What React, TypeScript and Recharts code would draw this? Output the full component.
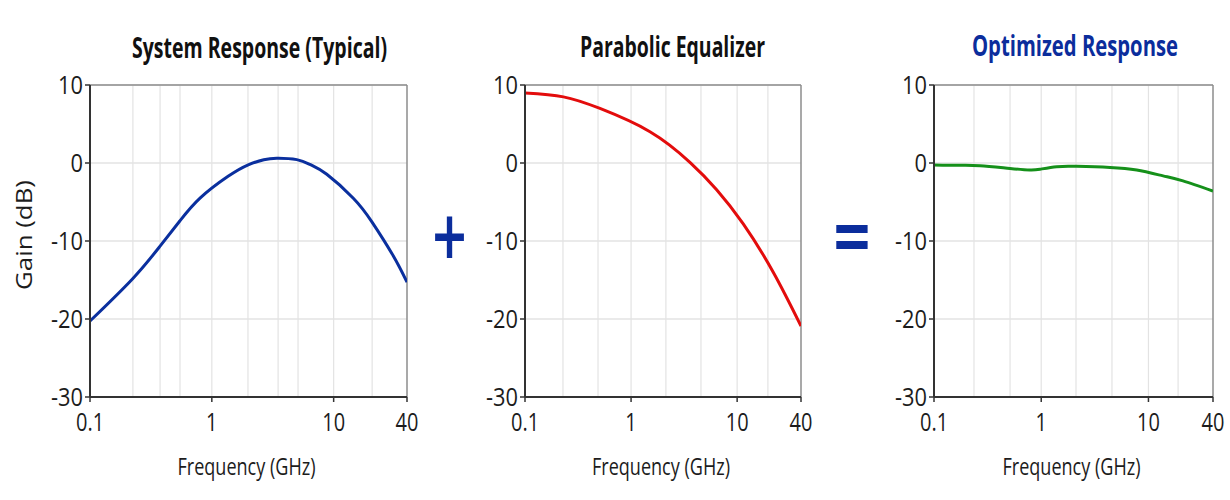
import {
	CartesianGrid,
	Line,
	LineChart,
	ReferenceLine,
	XAxis,
	YAxis,
} from "recharts";

const freqTicks = [0.1, 1, 10, 40];
const gainTicks = [-30, -20, -10, 0, 10];

// System response, GHz / dB
const systemFreq = [0.1, 0.225, 0.376, 0.548, 0.8, 1.36, 1.99, 2.67, 3.41, 4.98, 6.52, 8.78, 14.5, 20.6, 30.9, 40];
const systemGain = [-20.26, -14.8, -10.66, -7.41, -4.51, -1.71, -0.24, 0.42, 0.62, 0.43, -0.24, -1.45, -4.51, -7.54, -11.92, -15.28];
const systemGrid = [0.225, 0.376, 0.548, 1, 1.98, 3.5, 5.1, 10, 20.7];

// Parabolic equalizer
const eqFreq = [0.1, 0.23, 0.509, 1.507, 3.59, 6.41, 11.42, 21.9, 40];
const eqGain = [8.97, 8.48, 6.99, 4.01, 0.09, -3.42, -7.8, -14.0, -20.9];
const eqGrid = [0.228, 0.488, 1, 2.13, 4.56, 10, 19.5];

// Combined result
const optFreq = [0.1, 0.174, 0.269, 0.512, 0.786, 0.975, 1.395, 2.14, 4.38, 7.78, 13.7, 21.0, 40];
const optGain = [-0.26, -0.3, -0.35, -0.7, -0.9, -0.8, -0.47, -0.43, -0.57, -0.9, -1.65, -2.3, -3.6];
const optGrid = [0.236, 0.512, 1, 2.11, 4.57, 10, 18.9];

const FONT = '"Open Sans", "Noto Sans", sans-serif';
const INK = "#1c1c1c";
const NAVY = "#0b2d9c";

function zip(freq: number[], gain: number[]) {
	return freq.map((f, i) => ({ f, g: gain[i] }));
}

function XTick({ x, y, payload }: any) {
	return (
		<text
			transform={`translate(${x},${y + 29}) scale(0.8,1)`}
			textAnchor="middle"
			fontFamily={FONT}
			fontSize={25}
			fill={INK}
		>
			{payload.value}
		</text>
	);
}

function YTick({ x, y, payload }: any) {
	return (
		<text
			transform={`translate(${x},${y}) scale(0.84,1)`}
			textAnchor="end"
			dy="0.36em"
			fontFamily={FONT}
			fontSize={26}
			fill={INK}
		>
			{payload.value}
		</text>
	);
}

function FreqLabel({ viewBox }: any) {
	const { x = 0, y = 0, width = 0 } = viewBox ?? {};
	return (
		<text
			x={x + width / 2 - 2}
			y={y + 78}
			textAnchor="middle"
			fontFamily={FONT}
			fontSize={24}
			fill={INK}
			textLength={138}
			lengthAdjust="spacingAndGlyphs"
		>
			Frequency (GHz)
		</text>
	);
}

function GainLabel({ viewBox }: any) {
	const { x = 0, y = 0, height = 0 } = viewBox ?? {};
	const cx = x + 2;
	const cy = y + height / 2 - 6;
	return (
		<text
			x={cx}
			y={cy}
			transform={`rotate(-90 ${cx} ${cy})`}
			textAnchor="middle"
			fontFamily={FONT}
			fontSize={22}
			fill={INK}
			textLength={110}
			lengthAdjust="spacingAndGlyphs"
		>
			Gain (dB)
		</text>
	);
}

// Condensed bold heading: squeeze horizontally, then pin the final width
function Title({ cx, y, width, color, children }: any) {
	const sx = 0.72;
	return (
		<text
			transform={`translate(${cx},${y}) scale(${sx},1)`}
			textAnchor="middle"
			fontFamily={FONT}
			fontWeight={700}
			fontSize={28}
			fill={color}
			textLength={width / sx}
			lengthAdjust="spacingAndGlyphs"
		>
			{children}
		</text>
	);
}

interface PanelProps {
	left: number;
	width: number;
	axisWidth: number;
	marginLeft: number;
	marginRight: number;
	freq: number[];
	gain: number[];
	grid: number[];
	color: string;
	showGainLabel?: boolean;
}

function Panel({
	left,
	width,
	axisWidth,
	marginLeft,
	marginRight,
	freq,
	gain,
	grid,
	color,
	showGainLabel,
}: PanelProps) {
	const data = zip(freq, gain);
	return (
		<div style={{ position: "absolute", left, top: 0 }}>
			<LineChart
				width={width}
				height={500}
				data={data}
				margin={{ top: 85, right: marginRight, bottom: 73, left: marginLeft }}
			>
				<CartesianGrid vertical={false} stroke="#d5d5d5" strokeWidth={1.2} />
				{grid.map((v) => (
					<ReferenceLine key={v} x={v} stroke="#e3e3e3" strokeWidth={1.2} />
				))}
				<ReferenceLine y={10} stroke="#8c8c8c" strokeWidth={1.5} />
				<ReferenceLine x={40} stroke="#8c8c8c" strokeWidth={1.5} />
				<XAxis
					dataKey="f"
					type="number"
					scale="log"
					domain={[0.1, 40]}
					ticks={freqTicks}
					interval={0}
					allowDataOverflow
					height={30}
					tickSize={5}
					tickMargin={0}
					axisLine={{ stroke: "#333", strokeWidth: 2 }}
					tickLine={{ stroke: "#333", strokeWidth: 1.5 }}
					tick={<XTick />}
					label={<FreqLabel />}
				/>
				<YAxis
					type="number"
					domain={[-30, 10]}
					ticks={gainTicks}
					interval={0}
					width={axisWidth}
					tickSize={5}
					tickMargin={2}
					axisLine={{ stroke: "#333", strokeWidth: 2 }}
					tickLine={{ stroke: "#333", strokeWidth: 1.5 }}
					tick={<YTick />}
					label={showGainLabel ? <GainLabel /> : undefined}
				/>
				<Line
					type="natural"
					dataKey="g"
					stroke={color}
					strokeWidth={3}
					dot={false}
					activeDot={false}
					isAnimationActive={false}
				/>
			</LineChart>
		</div>
	);
}

export default function App() {
	return (
		<div
			style={{
				position: "absolute",
				left: 0,
				top: 0,
				width: 1230,
				height: 500,
				background: "#fff",
				overflow: "hidden",
			}}
		>
			<Panel
				left={0}
				width={420}
				axisWidth={60}
				marginLeft={30}
				marginRight={13}
				freq={systemFreq}
				gain={systemGain}
				grid={systemGrid}
				color="#0a2f9e"
				showGainLabel
			/>
			<Panel
				left={470}
				width={350}
				axisWidth={50}
				marginLeft={5}
				marginRight={19}
				freq={eqFreq}
				gain={eqGain}
				grid={eqGrid}
				color="#e30c0c"
			/>
			<Panel
				left={870}
				width={360}
				axisWidth={60}
				marginLeft={4}
				marginRight={17}
				freq={optFreq}
				gain={optGain}
				grid={optGrid}
				color="#15901a"
			/>
			<svg
				width={1230}
				height={500}
				style={{ position: "absolute", left: 0, top: 0, pointerEvents: "none" }}
			>
				<Title cx={259.5} y={58} width={255} color="#111">
					System Response (Typical)
				</Title>
				<Title cx={672.5} y={57} width={185} color="#111">
					Parabolic Equalizer
				</Title>
				<Title cx={1075} y={56} width={206} color={NAVY}>
					Optimized Response
				</Title>
				<g fontFamily='"DejaVu Sans", sans-serif' fontWeight={700} fill={NAVY}>
					<text transform="translate(449.5,235) scale(1,1.45)" y={16} textAnchor="middle" fontSize={46}>
						+
					</text>
					<text transform="translate(852,236) scale(1,1.4)" y={16.5} textAnchor="middle" fontSize={50}>
						=
					</text>
				</g>
			</svg>
		</div>
	);
}
